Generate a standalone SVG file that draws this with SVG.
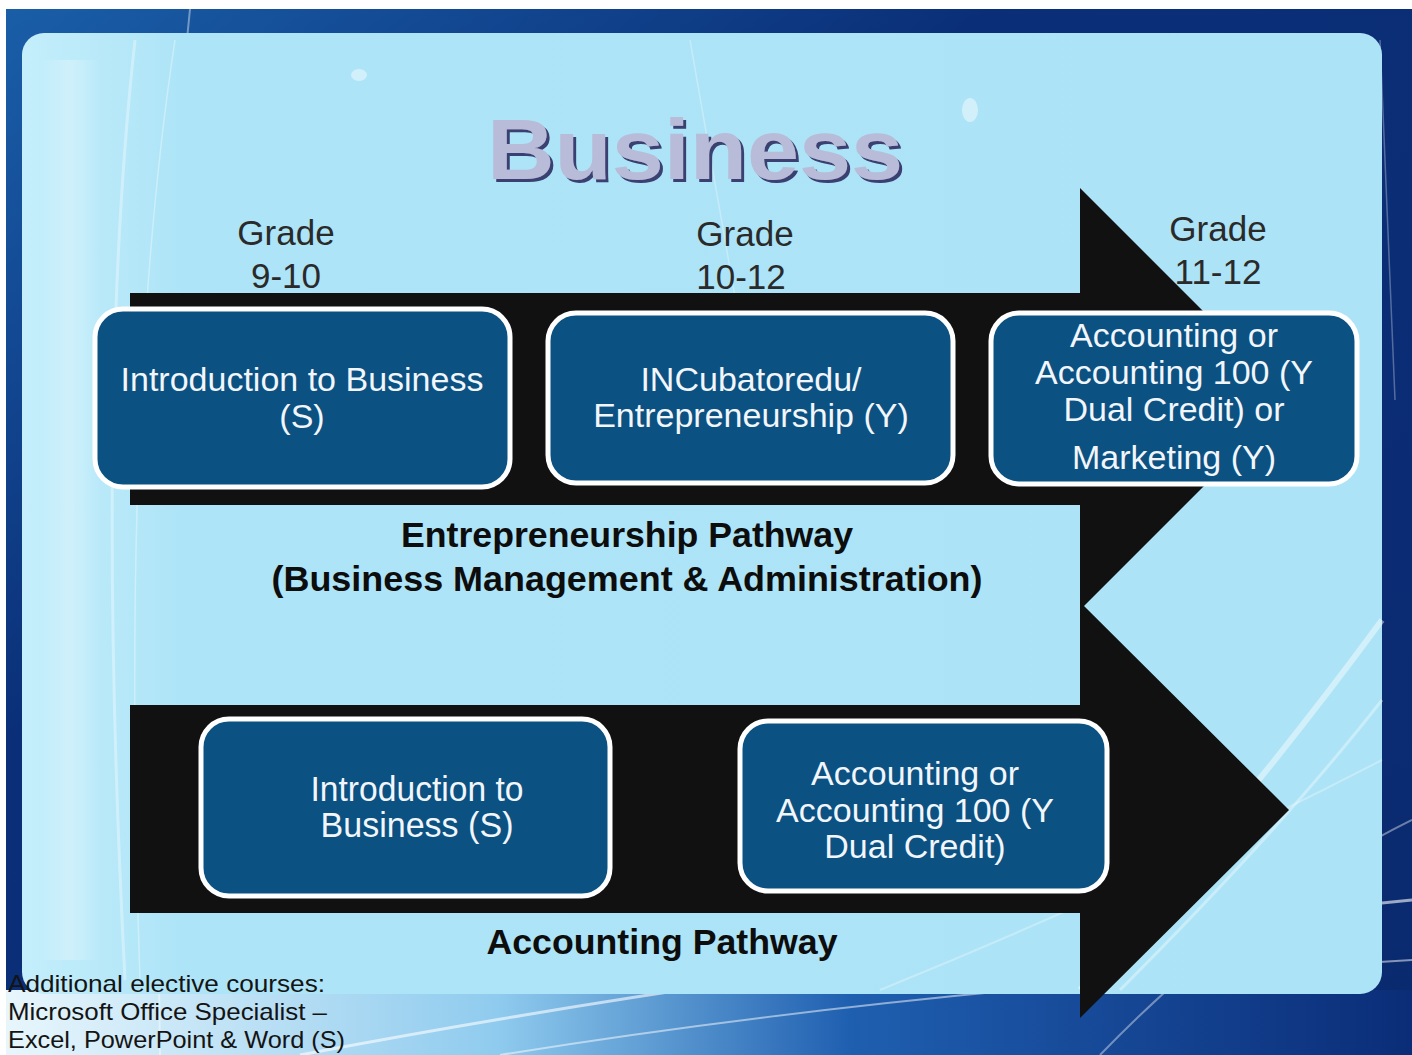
<svg xmlns="http://www.w3.org/2000/svg" width="1412" height="1055" viewBox="0 0 1412 1055">
  <defs>
    <linearGradient id="bgGrad" x1="0" y1="0" x2="1" y2="1">
      <stop offset="0" stop-color="#1a5ea8"/>
      <stop offset="0.35" stop-color="#0a2f78"/>
      <stop offset="0.75" stop-color="#0b2c74"/>
      <stop offset="1" stop-color="#0a2a6e"/>
    </linearGradient>
    <linearGradient id="panelGrad" x1="0" y1="0" x2="1" y2="0">
      <stop offset="0" stop-color="#c4eefb"/>
      <stop offset="0.12" stop-color="#ade4f7"/>
      <stop offset="1" stop-color="#ade3f6"/>
    </linearGradient>
    <linearGradient id="bottomGrad" x1="0" y1="0" x2="1" y2="0">
      <stop offset="0" stop-color="#e8f6fc"/>
      <stop offset="0.35" stop-color="#8fcbee"/>
      <stop offset="0.6" stop-color="#1f5fb0"/>
      <stop offset="1" stop-color="#0b2d78"/>
    </linearGradient>
    <linearGradient id="leftStreak" x1="0" y1="0" x2="1" y2="0">
      <stop offset="0" stop-color="#ffffff" stop-opacity="0"/>
      <stop offset="0.5" stop-color="#ffffff" stop-opacity="0.55"/>
      <stop offset="1" stop-color="#ffffff" stop-opacity="0"/>
    </linearGradient>
    <filter id="titleShadow" x="-5%" y="-10%" width="115%" height="130%">
      <feOffset in="SourceAlpha" dx="3" dy="3" result="off"/>
      <feFlood flood-color="#3b3f72"/>
      <feComposite in2="off" operator="in" result="sh"/>
      <feMerge>
        <feMergeNode in="sh"/>
        <feMergeNode in="SourceGraphic"/>
      </feMerge>
    </filter>
    <style>
      .box { fill: #0b5182; stroke: #ffffff; stroke-width: 5; }
      .arrow { fill: #111111; }
      .boxtxt { font-family: "Liberation Sans", Arial, sans-serif; font-size: 34px; fill: #f2f6fa; text-anchor: middle; }
      .grade { font-family: "Liberation Sans", Arial, sans-serif; font-size: 35px; fill: #2a2a2a; text-anchor: middle; }
      .path { font-family: "Liberation Sans", Arial, sans-serif; font-size: 35px; font-weight: bold; fill: #0d0d0d; text-anchor: middle; }
      .note { font-family: "Liberation Sans", Arial, sans-serif; font-size: 24px; fill: #141414; }
      .swoosh { fill: none; stroke: #ffffff; }
    </style>
  </defs>

  <!-- background -->
  <rect x="0" y="0" width="1412" height="1055" fill="#ffffff"/>
  <rect x="6" y="9" width="1406" height="1046" fill="url(#bgGrad)"/>
  <rect x="6" y="990" width="1406" height="65" fill="url(#bottomGrad)"/>
  <g class="swoosh">
    <path d="M 300 1055 Q 800 960 1412 900" stroke-width="3" stroke-opacity="0.6"/>
    <path d="M 500 1055 Q 900 990 1412 960" stroke-width="2" stroke-opacity="0.5"/>
    <path d="M 1100 1055 Q 1250 900 1412 820" stroke-width="2" stroke-opacity="0.4"/>
    <path d="M 1380 40 L 1395 400" stroke-width="1.5" stroke-opacity="0.3"/>
    <path d="M 190 9 Q 150 400 160 1055" stroke-width="2" stroke-opacity="0.4"/>
  </g>

  <!-- light panel -->
  <rect x="22" y="33" width="1360" height="961" rx="22" fill="url(#panelGrad)"/>
  <rect x="40" y="60" width="60" height="900" fill="url(#leftStreak)" opacity="0.5"/>
  <g class="swoosh" stroke-opacity="0.35">
    <path d="M 135 40 Q 95 400 125 980" stroke-width="3"/>
    <path d="M 175 40 Q 120 400 140 980" stroke-width="1.5"/>
    <path d="M 1080 990 Q 1250 800 1382 620" stroke-width="6" stroke-opacity="0.45"/>
    <path d="M 1120 990 Q 1280 830 1382 700" stroke-width="3" stroke-opacity="0.35"/>
    <path d="M 880 990 Q 1150 880 1382 760" stroke-width="2" stroke-opacity="0.3"/>
    <path d="M 690 40 L 760 440" stroke-width="1.5" stroke-opacity="0.3"/>
  </g>
  <ellipse cx="359" cy="75" rx="8" ry="6" fill="#ffffff" opacity="0.45"/>
  <ellipse cx="970" cy="110" rx="8" ry="12" fill="#ffffff" opacity="0.45"/>

  <!-- title -->
  <g id="title">
    <text x="487" y="179" font-family="'Liberation Sans', Arial, sans-serif" font-size="86" font-weight="bold" fill="#b8bcd8" textLength="416" lengthAdjust="spacingAndGlyphs" filter="url(#titleShadow)">Business</text>
  </g>

  <!-- connectors (pathway arrows) -->
  <g id="connectors">
    <polygon class="arrow" points="130,293 1080,293 1080,188 1291,399 1080,610 1080,505 130,505"/>
    <polygon class="arrow" points="130,705 1080,705 1080,602 1289,810 1080,1018 1080,913 130,913"/>
  </g>

  <!-- grade labels -->
  <g id="grade-9-10">
    <text class="grade" x="286" y="245">Grade</text>
    <text class="grade" x="286" y="288">9-10</text>
  </g>
  <g id="grade-10-12">
    <text class="grade" x="745" y="246">Grade</text>
    <text class="grade" x="741" y="289">10-12</text>
  </g>
  <g id="grade-11-12">
    <text class="grade" x="1218" y="241">Grade</text>
    <text class="grade" x="1218" y="284">11-12</text>
  </g>

  <!-- entrepreneurship pathway nodes -->
  <g id="node-intro-business-1">
    <rect class="box" x="95" y="309" width="415" height="178" rx="28"/>
    <text class="boxtxt" x="302" y="391">Introduction to Business</text>
    <text class="boxtxt" x="302" y="428">(S)</text>
  </g>
  <g id="node-incubatoredu">
    <rect class="box" x="548" y="313" width="405" height="170" rx="28"/>
    <text class="boxtxt" x="751" y="391">INCubatoredu/</text>
    <text class="boxtxt" x="751" y="427">Entrepreneurship (Y)</text>
  </g>
  <g id="node-accounting-marketing">
    <rect class="box" x="991" y="313" width="366" height="171" rx="28"/>
    <text class="boxtxt" x="1174" y="347">Accounting or</text>
    <text class="boxtxt" x="1174" y="384">Accounting 100 (Y</text>
    <text class="boxtxt" x="1174" y="421">Dual Credit) or</text>
    <text class="boxtxt" x="1174" y="469">Marketing (Y)</text>
  </g>

  <g id="label-entrepreneurship">
    <text class="path" x="627" y="547" textLength="452" lengthAdjust="spacingAndGlyphs">Entrepreneurship Pathway</text>
    <text class="path" x="627" y="591" textLength="711" lengthAdjust="spacingAndGlyphs">(Business Management &amp; Administration)</text>
  </g>

  <!-- accounting pathway nodes -->
  <g id="node-intro-business-2">
    <rect class="box" x="201" y="719" width="409" height="177" rx="28"/>
    <text class="boxtxt" x="417" y="801" style="font-size:35px" textLength="213" lengthAdjust="spacingAndGlyphs">Introduction to</text>
    <text class="boxtxt" x="417" y="837" style="font-size:35px" textLength="193" lengthAdjust="spacingAndGlyphs">Business (S)</text>
  </g>
  <g id="node-accounting">
    <rect class="box" x="740" y="721" width="367" height="170" rx="28"/>
    <text class="boxtxt" x="915" y="785">Accounting or</text>
    <text class="boxtxt" x="915" y="822">Accounting 100 (Y</text>
    <text class="boxtxt" x="915" y="858">Dual Credit)</text>
  </g>

  <g id="label-accounting">
    <text class="path" x="662" y="954" textLength="351" lengthAdjust="spacingAndGlyphs">Accounting Pathway</text>
  </g>

  <g id="electives">
    <text class="note" x="8" y="992" textLength="317" lengthAdjust="spacingAndGlyphs">Additional elective courses:</text>
    <text class="note" x="8" y="1020" textLength="319" lengthAdjust="spacingAndGlyphs">Microsoft Office Specialist –</text>
    <text class="note" x="8" y="1048" textLength="337" lengthAdjust="spacingAndGlyphs">Excel, PowerPoint &amp; Word (S)</text>
  </g>
</svg>
